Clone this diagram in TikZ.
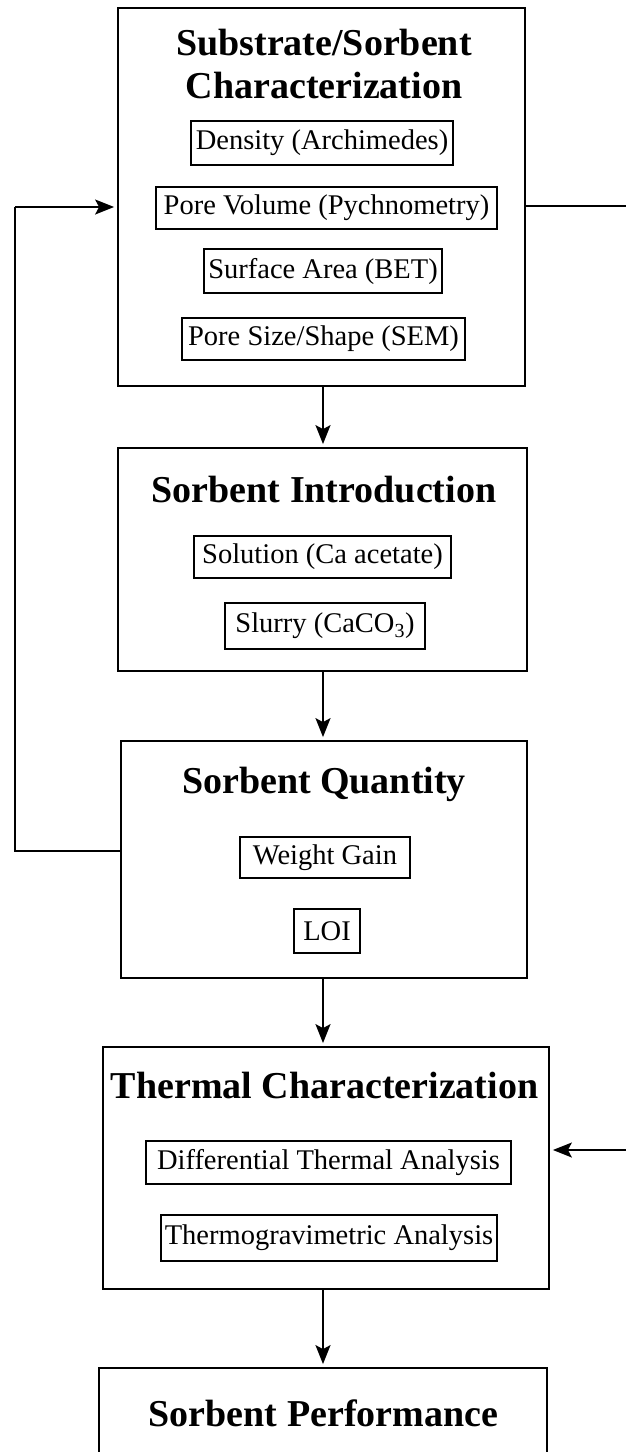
\documentclass[tikz,border=0pt]{standalone}
\usepackage{fontspec}
\setmainfont{Liberation Serif}
\usetikzlibrary{arrows.meta}
\begin{document}
\begin{tikzpicture}[x=1pt,y=-1pt,
  bigbox/.style={draw,line width=1.8pt,inner sep=0pt},
  subbox/.style={draw,line width=1.5pt,inner sep=0pt,font=\fontsize{28.5}{34}\selectfont},
  title/.style={anchor=base,inner sep=0pt,font=\fontsize{38}{46}\selectfont\bfseries},
  arr/.style={line width=1.6pt,shorten >=3pt,-{Stealth[length=19pt,width=15pt,inset=4pt]}},
  ln/.style={line width=1.6pt}]
\useasboundingbox (0,0) rectangle (626,1452);
\clip (0,0) rectangle (626,1452);
% main boxes
\node[bigbox,minimum width=407pt,minimum height=378pt] (B1) at (321.5,197) {};
\node[bigbox,minimum width=409pt,minimum height=223pt] (B2) at (322.5,559.5) {};
\node[bigbox,minimum width=406pt,minimum height=237pt] (B3) at (324,859.5) {};
\node[bigbox,minimum width=446pt,minimum height=242pt] (B4) at (326,1168) {};
\node[bigbox,minimum width=448pt,minimum height=132pt] (B5) at (323,1434) {};
% titles
\node[title] (T1a) at (324,55) {Substrate/Sorbent};
\node[title] (T1b) at (324,98) {Characterization};
\node[title] (T2) at (324,502) {Sorbent Introduction};
\node[title] (T3) at (324,793) {Sorbent Quantity};
\node[title] (T4) at (324.5,1098) {Thermal Characterization};
\node[title] (T5) at (323.5,1426) {Sorbent Performance};
% sub boxes
\node[subbox,minimum width=262pt,minimum height=44pt] (S1) at (322,143) {Density (Archimedes)};
\node[subbox,minimum width=341pt,minimum height=42pt] (S2) at (326.5,208) {Pore Volume (Pychnometry)};
\node[subbox,minimum width=238pt,minimum height=44pt] (S3) at (323,271) {Surface Area (BET)};
\node[subbox,minimum width=283pt,minimum height=42pt] (S4) at (323.5,339) {Pore Size/Shape (SEM)};
\node[subbox,minimum width=257pt,minimum height=42pt] (S5) at (322.5,557) {Solution (Ca acetate)};
\node[subbox,minimum width=200pt,minimum height=46pt] (S6) at (325,626) {Slurry (CaCO\textsubscript{3})};
\node[subbox,minimum width=170pt,minimum height=41pt] (S7) at (325,857.5) {Weight Gain};
\node[subbox,minimum width=66pt,minimum height=44pt] (S8) at (327,931) {LOI};
\node[subbox,minimum width=365pt,minimum height=43pt] (S9) at (328.5,1162.5) {Differential Thermal Analysis};
\node[subbox,minimum width=336pt,minimum height=46pt] (S10) at (329,1238) {Thermogravimetric Analysis};
% vertical arrows
\coordinate (ax) at (323,0);
\draw[arr] (B1.south -| ax) -- (B2.north -| ax);
\draw[arr] (B2.south -| ax) -- (B3.north -| ax);
\draw[arr] (B3.south -| ax) -- (B4.north -| ax);
\draw[arr] (B4.south -| ax) -- (B5.north -| ax);
% feedback loop
\coordinate (fbA) at (15,851);
\coordinate (fbB) at (15,207);
\draw[ln] (B3.west |- fbA) -- (fbA) -- (fbB);
\draw[arr] (fbB) -- (B1.west |- fbB);
% right side connectors
\coordinate (r1) at (632,206);
\coordinate (r2) at (632,1150);
\draw[ln] (B1.east |- r1) -- (r1);
\draw[arr] (r2) -- (B4.east |- r2);
\end{tikzpicture}
\end{document}
